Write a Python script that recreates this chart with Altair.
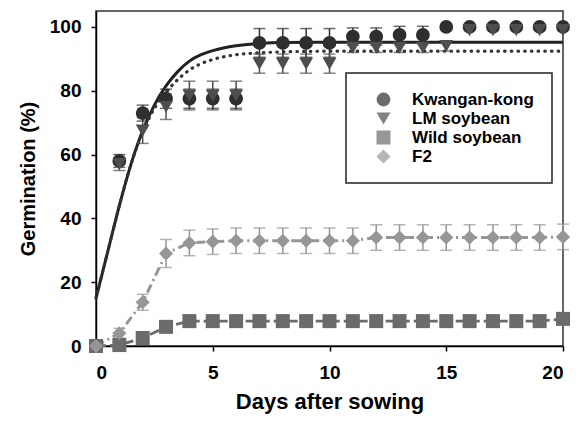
import altair as alt
import pandas as pd

# ---- data ----
days = list(range(21))
series_names = ["Kwangan-kong", "LM soybean", "Wild soybean", "F2"]

kwangan = [0, 58, 73, 77.5, 77.5, 77.5, 77.5, 95, 95, 95, 95, 97, 97, 97.5, 97.5,
           100, 100, 100, 100, 100, 100]
kwangan_err = [0, 2, 2.5, 3, 3, 3, 3, 4.5, 4.5, 4.5, 4.5, 2.7, 2.7, 2.7, 2.7,
               0, 0, 0, 0, 0, 0]
lm = [0, 57, 67.5, 75, 78.5, 78.5, 78.5, 88.5, 88.5, 88.5, 88.5, 93.5, 93.5, 93.5, 93.5,
      94, 99, 99, 99, 99, 99]
lm_err = [0, 2, 4, 4, 4.5, 4.5, 4.5, 3, 3, 3, 3, 1.5, 1.5, 1.5, 1.5, 1.5,
          0, 0, 0, 0, 0]
wild = [0, 0.3, 2.5, 6, 7.8, 7.8, 7.8, 7.8, 7.8, 7.8, 7.8, 7.8, 7.8, 7.8, 7.8,
        7.8, 7.8, 7.8, 7.8, 7.8, 8.5]
wild_err = [0] * 21
f2 = [0, 4, 13.7, 29, 32.3, 32.7, 33, 33, 33, 33, 33, 33, 34, 34, 34, 34, 34, 34, 34,
      34, 34.2]
f2_err = [0, 1.5, 2.5, 4.4, 4, 4, 4, 4, 4, 4, 4, 4, 4, 4, 4, 4, 4, 4, 4, 4, 4]

# fitted curves
fit_days = [0, 0.5, 1, 1.5, 2, 2.5, 3, 3.5, 4, 4.5, 5, 5.5, 6, 7, 8, 10, 20]
kwangan_fit = [15, 29.5, 44, 57, 67.5, 75.5, 81.5, 86, 89.3, 91.3, 92.6, 93.5, 94.1,
               94.8, 95.1, 95.2, 95.2]
lm_fit = [15, 29.5, 44, 57, 67, 74.5, 79.5, 83.5, 86.5, 88.5, 89.8, 90.7, 91.3,
          91.9, 92.2, 92.4, 92.4]

colors = ["#2e2e2e", "#4e4e4e", "#6b6b6b", "#969696"]
shapes = ["circle", "triangle-down", "square", "diamond"]
sizes = [190, 200, 150, 290]

# ---- tables ----
rows = []
for i, (name, vals, errs) in enumerate(zip(series_names, [kwangan, lm, wild, f2],
                                           [kwangan_err, lm_err, wild_err, f2_err])):
    for d, v, e in zip(days, vals, errs):
        rows.append({"series": name, "idx": i, "day": d, "value": v,
                     "lo": v - e, "hi": v + e, "err": e, "ecolor": colors[i]})
df = pd.DataFrame(rows)
df_err = df[df["err"] > 0]

fit_rows = []
for d, a, b in zip(fit_days, kwangan_fit, lm_fit):
    fit_rows.append({"day": d, "kw": a, "lm": b})
df_fit = pd.DataFrame(fit_rows)

xs = alt.Scale(domain=[0, 20], nice=False, zero=False)
ys = alt.Scale(domain=[0, 105], nice=False)

X = alt.X("day:Q", scale=xs, title="Days after sowing",
          axis=alt.Axis(values=[0, 5, 10, 15, 20], format="d", labelPadding=12,
                        titlePadding=9, titleFontSize=22))
Y = alt.Y("value:Q", scale=ys, title="Germination (%)",
          axis=alt.Axis(values=[0, 20, 40, 60, 80, 100], format="d", labelPadding=10,
                        titlePadding=11, titleFontSize=20))

base_fit = alt.Chart(df_fit)
kw_line = base_fit.mark_line(color="#222222", strokeWidth=3, interpolate="monotone").encode(
    x=alt.X("day:Q", scale=xs), y=alt.Y("kw:Q", scale=ys))
lm_line = base_fit.mark_line(color="#333333", strokeWidth=3.2, strokeDash=[0.5, 6.2],
                             strokeCap="round", interpolate="monotone").encode(
    x=alt.X("day:Q", scale=xs), y=alt.Y("lm:Q", scale=ys))

wild_line = alt.Chart(df[df["series"] == "Wild soybean"]).mark_line(
    color=colors[2], strokeWidth=2.8, strokeDash=[10, 4]).encode(
    x=alt.X("day:Q", scale=xs), y=alt.Y("value:Q", scale=ys))
f2_line = alt.Chart(df[df["series"] == "F2"]).mark_line(
    color=colors[3], strokeWidth=3, strokeDash=[9, 4, 2, 4]).encode(
    x=alt.X("day:Q", scale=xs), y=alt.Y("value:Q", scale=ys))

err_rule = alt.Chart(df_err).mark_rule(strokeWidth=1.5).encode(
    x=alt.X("day:Q", scale=xs), y=alt.Y("lo:Q", scale=ys), y2="hi:Q",
    color=alt.Color("ecolor:N", scale=None))
err_lo = alt.Chart(df_err).mark_tick(orient="horizontal", thickness=1.5, size=12).encode(
    x=alt.X("day:Q", scale=xs), y=alt.Y("lo:Q", scale=ys),
    color=alt.Color("ecolor:N", scale=None))
err_hi = alt.Chart(df_err).mark_tick(orient="horizontal", thickness=1.5, size=12).encode(
    x=alt.X("day:Q", scale=xs), y=alt.Y("hi:Q", scale=ys),
    color=alt.Color("ecolor:N", scale=None))

points = alt.Chart(df).mark_point(filled=True, opacity=1, strokeWidth=0).encode(
    x=X, y=Y,
    color=alt.Color("series:N", scale=alt.Scale(domain=series_names, range=colors),
                    legend=alt.Legend(title=None)),
    shape=alt.Shape("series:N", scale=alt.Scale(domain=series_names, range=shapes),
                    legend=alt.Legend(title=None)),
    size=alt.Size("series:N", scale=alt.Scale(domain=series_names, range=sizes),
                  legend=None),
    order=alt.Order("idx:Q"),
)

chart = alt.layer(kw_line, lm_line, wild_line, f2_line, err_rule, err_lo, err_hi, points).properties(
    width=467, height=335,
    padding={"left": 10, "top": 3, "right": 5, "bottom": 3},
).configure_view(
    stroke="#333333", strokeWidth=1.5
).configure_axis(
    grid=False, domainColor="#000000", domainWidth=1.5, tickColor="#000000",
    tickWidth=1.5, tickSize=5,
    labelFont="Liberation Sans", labelFontWeight="bold", labelFontSize=19,
    labelColor="#000000",
    titleFont="Liberation Sans", titleFontWeight="bold",
    titleColor="#000000",
).configure_legend(
    orient="none", legendX=250, legendY=62, padding=18,
    strokeColor="#222222", strokeWidth=1.5, fillColor="#ffffff",
    labelFont="Liberation Sans", labelFontWeight="bold", labelFontSize=17,
    labelColor="#000000", symbolSize=160, symbolOffset=11, labelOffset=20,
    rowPadding=1, symbolStrokeWidth=0,
)

chart.save("out.html", embed_options={"renderer": "svg", "actions": False})
